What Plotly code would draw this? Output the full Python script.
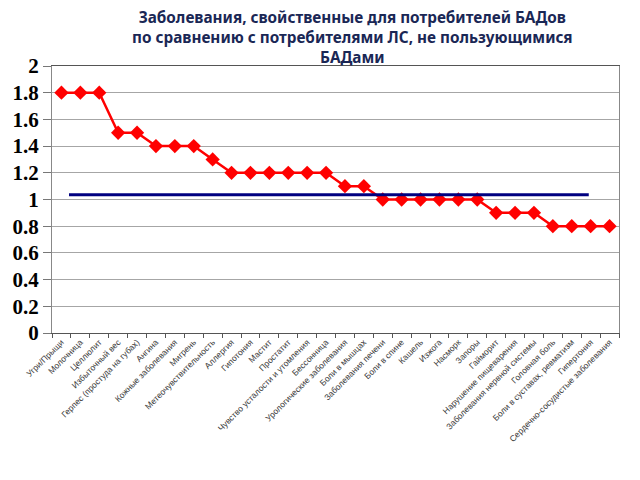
import plotly.graph_objects as go

categories = [
    "Угри/Прыщи", "Молочница", "Целлюлит", "Избыточный вес",
    "Герпес (простуда на губах)", "Ангина", "Кожные заболевания", "Мигрень",
    "Метеочувствительность", "Аллергия", "Гипотония", "Мастит", "Простатит",
    "Чувство усталости и утомления", "Бессонница", "Урологические заболевания",
    "Боли в мышцах", "Заболевания печени", "Боли в спине", "Кашель", "Изжога",
    "Насморк", "Запоры", "Гайморит", "Нарушение пищеварения",
    "Заболевания нервной системы", "Головная боль", "Боли в суставах, ревматизм",
    "Гипертония", "Сердечно-сосудистые заболевания",
]
values = [1.8, 1.8, 1.8, 1.5, 1.5, 1.4, 1.4, 1.4, 1.3, 1.2, 1.2, 1.2, 1.2, 1.2, 1.2,
          1.1, 1.1, 1.0, 1.0, 1.0, 1.0, 1.0, 1.0, 0.9, 0.9, 0.9, 0.8, 0.8, 0.8, 0.8]
baseline_x = [0.4, 27.9]
baseline_y = [1.035, 1.035]
y_ticks = [0, 0.2, 0.4, 0.6, 0.8, 1, 1.2, 1.4, 1.6, 1.8, 2]
y_ticktext = ["0", "0.2", "0.4", "0.6", "0.8", "1", "1.2", "1.4", "1.6", "1.8", "2"]

title = ("Заболевания, свойственные для потребителей БАДов<br>"
         "по сравнению с потребителями ЛС, не пользующимися<br>БАДами")

# page has an 8px body margin: figure is sized so it fits the 640x480 window
W, H = 632, 472
ML, MR, MT, MB = 44, 21, 58, 147
plot_w = W - ML - MR
plot_h = H - MT - MB

fig = go.Figure()
fig.add_trace(go.Scatter(
    x=list(range(len(categories))), y=values, mode="lines+markers",
    line=dict(color="#ff0000", width=2.5),
    marker=dict(symbol="diamond", size=11, color="#ff0000"),
    showlegend=False, hoverinfo="y",
))
fig.add_trace(go.Scatter(
    x=baseline_x, y=baseline_y, mode="lines",
    line=dict(color="#000080", width=3),
    showlegend=False,
))

fig.add_annotation(
    text=title, xref="paper", yref="paper",
    x=(344 - ML) / plot_w, y=1 + (MT + 3) / plot_h,
    xanchor="center", yanchor="top", showarrow=False, align="center",
    font=dict(family="Noto Sans", size=15.3, color="#1a2755", weight="bold"),
)

fig.update_layout(
    width=W, height=H,
    margin=dict(l=ML, r=MR, t=MT, b=MB),
    paper_bgcolor="white", plot_bgcolor="white",
    xaxis=dict(
        range=[-0.5, len(categories) - 0.5],
        tickmode="array", tickvals=list(range(len(categories))), ticktext=categories,
        tickangle=-45, tickfont=dict(family="Liberation Sans", size=8.5, color="#3a3a3a"),
        showgrid=False, showline=True, linecolor="#555555", linewidth=1, mirror=True,
        ticks="", automargin=False, zeroline=False,
    ),
    yaxis=dict(
        range=[0, 2], tickvals=y_ticks, ticktext=y_ticktext,
        tickfont=dict(family="Liberation Serif", size=21, color="#000000", weight="bold"),
        showgrid=True, gridcolor="#a6a6a6", gridwidth=1,
        showline=True, linecolor="#888888", linewidth=1, mirror=True,
        ticks="outside", ticklen=8, tickcolor="#777777",
        automargin=False, zeroline=False,
    ),
)
fig.update_xaxes(minor=dict(tickmode="array",
                            tickvals=[i - 0.5 for i in range(len(categories) + 1)],
                            ticks="outside", ticklen=4, tickcolor="#555555"))

fig.write_html("out.html")
